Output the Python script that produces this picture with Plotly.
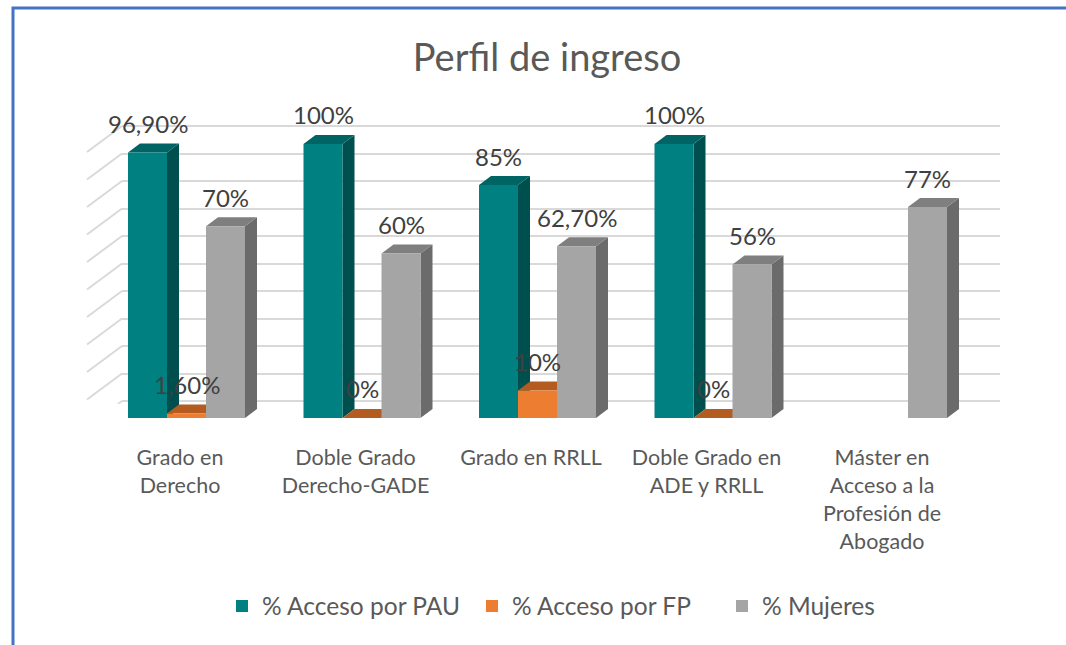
import plotly.graph_objects as go

# ---------------- data ----------------
categories = ["Grado en<br>Derecho", "Doble Grado<br>Derecho-GADE", "Grado en RRLL",
              "Doble Grado en<br>ADE y RRLL", "Máster en<br>Acceso a la<br>Profesión de<br>Abogado"]
series_names = ["% Acceso por PAU", "% Acceso por FP", "% Mujeres"]
pau = [96.9, 100, 85, 100, None]
fp = [1.6, 0, 10, 0, None]
mujeres = [70, 60, 62.7, 56, 77]
pau_labels = ["96,90%", "100%", "85%", "100%", None]
fp_labels = ["1,60%", "0%", "10%", "0%", None]
mujeres_labels = ["70%", "60%", "62,70%", "56%", "77%"]
grid_ticks = list(range(0, 101, 10))

# ---------------- styles ----------------
W, H = 1066, 645
front_cols = ["#008080", "#ED7D31", "#A5A5A5"]
side_cols = ["#004F4F", "#A0521C", "#6B6B6B"]
top_cols = ["#006464", "#B45C20", "#7F7F7F"]
TXT = "#595959"
FONT = "Lato"

# front (bars) axes geometry in pixels
x_dom_px = (88, 982)
cat0_px, cat_step_px = 186.5, 175.5
y0_px, unit_px, ymax = 418, 2.74, 110
# back wall axes geometry in pixels
bx_dom_px = (122, 1000)
by0_px, bunit_px = 401, 2.75
depth_px_x, depth_px_y = 12, 9

xr_lo = (x_dom_px[0] - cat0_px) / cat_step_px
xr_hi = (x_dom_px[1] - cat0_px) / cat_step_px
bargap = 1 / 3
bw = (1 - bargap) / 3
dx = depth_px_x / cat_step_px
dy = depth_px_y / unit_px
label_shift = -6.5 / cat_step_px

fig = go.Figure()

# back wall (gridlines) subplot: xy
fig.add_trace(go.Scatter(x=[None], y=[None], xaxis="x", yaxis="y", showlegend=False,
                         hoverinfo="skip", mode="markers"))

series = [pau, fp, mujeres]
labels = [pau_labels, fp_labels, mujeres_labels]
xs = list(range(len(categories)))
for j, (name, vals) in enumerate(zip(series_names, series)):
    fig.add_trace(go.Bar(x=xs, y=vals, name=name, marker=dict(color=front_cols[j], line=dict(width=0)),
                         xaxis="x2", yaxis="y2", cliponaxis=False))

shapes = []
annotations = []
# 3D side / top faces computed from values
for j, vals in enumerate(series):
    for i, v in enumerate(vals):
        if v is None:
            continue
        xc = i + (j - 1) * bw
        xl, xr = xc - bw / 2, xc + bw / 2
        side = f"M{xr},0 L{xr+dx},{dy} L{xr+dx},{v+dy} L{xr},{v} Z"
        top = f"M{xl},{v} L{xl+dx},{v+dy} L{xr+dx},{v+dy} L{xr},{v} Z"
        shapes.append(dict(type="path", path=side, xref="x2", yref="y2", layer="below",
                           fillcolor=side_cols[j], line=dict(width=0)))
        shapes.append(dict(type="path", path=top, xref="x2", yref="y2", layer="below",
                           fillcolor=top_cols[j], line=dict(width=0)))
        annotations.append(dict(x=xc, y=v, xref="x2", yref="y2", text=labels[j][i], showarrow=False,
                                yshift=29, font=dict(family=FONT, size=24, color="#404040")))

# left diagonal grid connectors
for t in grid_ticks:
    shapes.append(dict(type="line", xref="paper", x0=87 / W, x1=bx_dom_px[0] / W,
                       yref="y", ysizemode="pixel", yanchor=t, y0=-26, y1=0,
                       line=dict(color="#D9D9D9", width=2), layer="below"))

# outer border
shapes.append(dict(type="path", xref="paper", yref="paper",
                   path=f"M{13/W},0 L{13/W},{1-8/H} L1,{1-8/H}",
                   line=dict(color="#4472C4", width=3), layer="above"))

fig.update_layout(
    width=W, height=H,
    margin=dict(l=0, r=0, t=0, b=0),
    paper_bgcolor="white", plot_bgcolor="rgba(0,0,0,0)",
    barmode="group", bargap=bargap, bargroupgap=0,
    title=dict(text="Perfil de ingreso", x=547 / W, xanchor="center", y=1 - 58 / H, yanchor="middle",
               font=dict(family=FONT, size=38, color=TXT)),
    font=dict(family=FONT, color=TXT),
    xaxis=dict(domain=[bx_dom_px[0] / W, bx_dom_px[1] / W], range=[0, 1], showgrid=False,
               showticklabels=False, zeroline=False, showline=False, fixedrange=True),
    yaxis=dict(domain=[1 - (by0_px + bunit_px) / H, 1 - (by0_px - 101 * bunit_px) / H], range=[-1, 101],
               tick0=0, dtick=10, showgrid=True, gridcolor="#D9D9D9", gridwidth=2,
               showticklabels=False, zeroline=False, showline=False, fixedrange=True),
    xaxis2=dict(domain=[x_dom_px[0] / W, x_dom_px[1] / W], range=[xr_lo, xr_hi], anchor="y2",
                tickvals=[i + label_shift for i in xs], ticktext=categories,
                tickfont=dict(family=FONT, size=21.5, color=TXT), ticks="outside", ticklen=20,
                tickcolor="rgba(0,0,0,0)", showgrid=False, zeroline=False, showline=False, fixedrange=True),
    yaxis2=dict(domain=[1 - y0_px / H, 1 - (y0_px - ymax * unit_px) / H], range=[0, ymax], anchor="x2",
                showgrid=False, showticklabels=False, zeroline=False, showline=False, fixedrange=True),
    legend=dict(orientation="h", x=597 / W, xanchor="center", y=1 - 606 / H, yanchor="middle",
                font=dict(family=FONT, size=24.5, color=TXT), bgcolor="rgba(0,0,0,0)",
                entrywidth=205, entrywidthmode="pixels"),
    shapes=shapes,
    annotations=annotations,
    showlegend=True,
)

fig.write_html("out.html", config={"displayModeBar": False},
               post_script="document.body.style.margin='0';document.body.style.overflow='hidden';")
